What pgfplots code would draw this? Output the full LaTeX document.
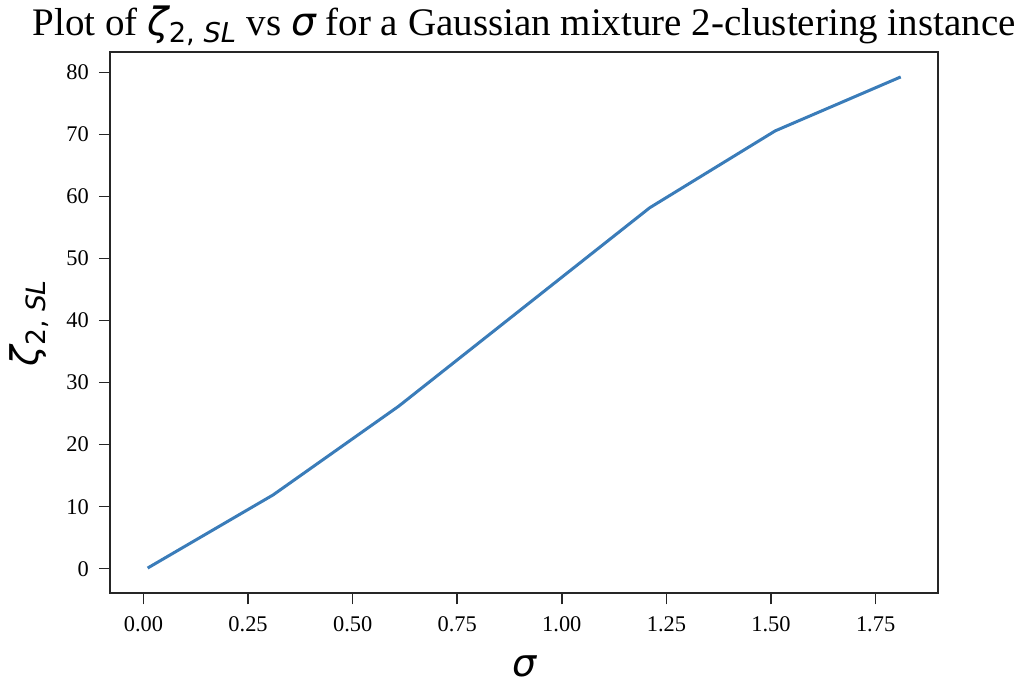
\documentclass[border=0pt]{standalone}
\usepackage{fontspec}
\setmainfont{Liberation Serif}
\newfontfamily\djv{DejaVu Sans}
\usepackage{pgfplots}
\pgfplotsset{compat=1.18}
\definecolor{linecol}{RGB}{58,124,185}

\begin{document}
\begin{tikzpicture}
\useasboundingbox (-55pt,-45.35pt) rectangle (460pt,296.65pt);
\begin{axis}[
  scale only axis, width=414.2pt, height=270.5pt,
  xmin=-0.08, xmax=1.90, ymin=-3.97, ymax=83.27,
  axis line style={line width=0.9pt, black!85},
  tick align=outside, major tick length=5.6pt,
  xtick pos=lower, ytick pos=left,
  tick style={line width=0.8pt, black!85},
  xtick={0,0.25,0.5,0.75,1,1.25,1.5,1.75},
  ytick={0,10,20,30,40,50,60,70,80},
  scaled x ticks=false,
  /pgf/number format/assume math mode=true,
  tick label style={font=\fontsize{11.2}{13}\selectfont},
  xticklabel style={/pgf/number format/fixed, /pgf/number format/fixed zerofill,
    /pgf/number format/precision=2, yshift=-2.5pt},
  yticklabel style={xshift=-1.5pt},
  title={Plot of {\djv\itshape ζ}\textsubscript{\djv 2, \itshape SL} vs {\djv\itshape σ} for a Gaussian mixture 2-clustering instance},
  title style={at={(axis description cs:0.5,1)}, anchor=base, yshift=2.2pt,
    font=\fontsize{19.5}{21}\selectfont},
  xlabel={{\djv\itshape σ}},
  xlabel style={at={(axis description cs:0.5,0)}, anchor=base, yshift=-41.8pt,
    font=\fontsize{19}{21}\selectfont},
  ylabel={{\djv\itshape ζ}\textsubscript{\djv 2, \itshape SL}},
  ylabel style={at={(axis description cs:-0.0869,0.5)}, anchor=base,
    font=\fontsize{19}{21}\selectfont},
]
  \addplot[linecol, line width=1.5pt, mark=none] coordinates {
    (0.01,0.1) (0.31,11.9) (0.61,26.2) (0.91,42.2)
    (1.21,58.2) (1.51,70.6) (1.81,79.3)};
\end{axis}
\end{tikzpicture}
\end{document}
